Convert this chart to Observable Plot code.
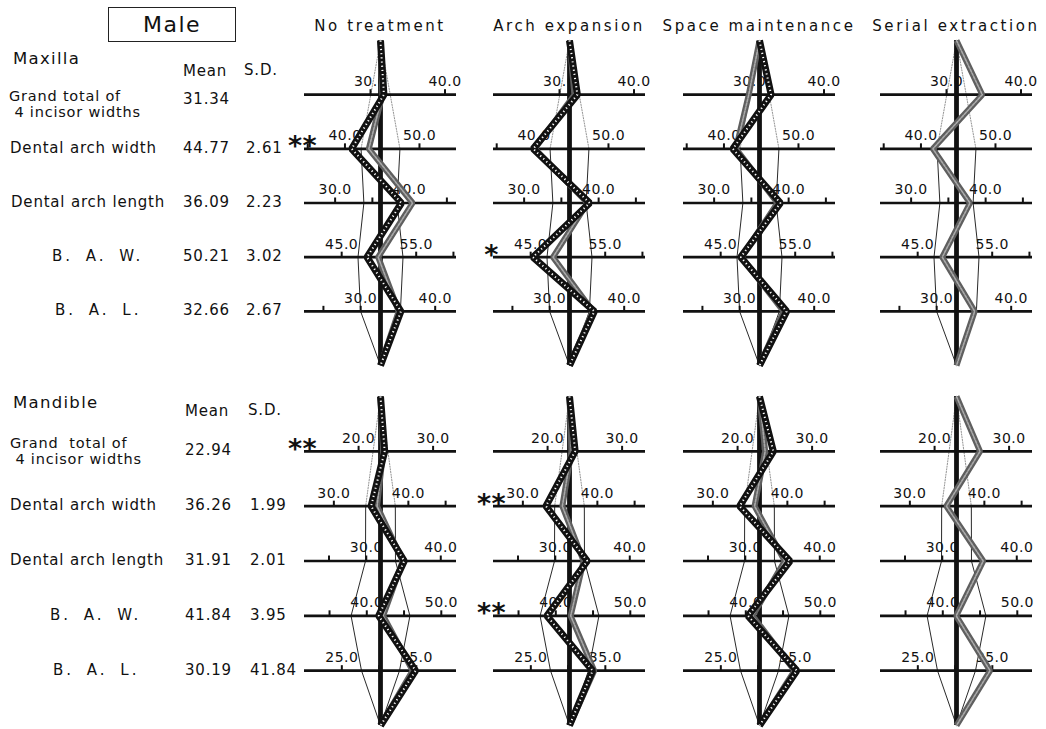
<!DOCTYPE html>
<html><head><meta charset="utf-8">
<script src="https://cdn.jsdelivr.net/npm/d3@7"></script>
<script src="https://cdn.jsdelivr.net/npm/@observablehq/plot@0.6"></script>
<style>
body{margin:0;background:#fff;}
#fig{position:relative;width:1046px;height:729px;overflow:hidden;font-family:"DejaVu Sans",sans-serif;color:#111;background:#fff;}
.lbl{position:absolute;white-space:pre;line-height:1;}
.pnl{position:absolute;}
</style></head><body><div id="fig"></div>
<script>
// ---------------- data ----------------
const figureTitle = "Male";
const treatments = ["No treatment", "Arch expansion", "Space maintenance", "Serial extraction"];
const jaws = ["Maxilla", "Mandible"];

const maxillaVariables = [["Grand total of", " 4 incisor widths"], ["Dental arch width"], ["Dental arch length"], ["B. A. W."], ["B. A. L."]];
const mandibleVariables = [["Grand  total of", " 4 incisor widths"], ["Dental arch width"], ["Dental arch length"], ["B. A. W."], ["B. A. L."]];

const maxillaMean = [31.34, 44.77, 36.09, 50.21, 32.66];
const maxillaSD = [null, 2.61, 2.23, 3.02, 2.67];
const maxillaSDText = ["", "2.61", "2.23", "3.02", "2.67"];
const mandibleMean = [22.94, 36.26, 31.91, 41.84, 30.19];
const mandibleSD = [null, 1.99, 2.01, 3.95, 2.55];
const mandibleSDText = ["", "1.99", "2.01", "3.95", "41.84"];

const maxillaTickLabels = [[30, 40], [40, 50], [30, 40], [45, 55], [30, 40]];
const maxillaMinorTicks = [[], [35], [35, 45], [60], [25]];
const mandibleTickLabels = [[20, 30], [30, 40], [30, 40], [40, 50], [25, 35]];
const mandibleMinorTicks = [[], [45], [25], [35, 45], [30]];

// profile values (mm), one array per treatment; null = not drawn
const maxillaDark = [
  [31.8, 40.9, 38.9, 48.4, 35.4],
  [32.4, 39.9, 38.8, 45.3, 36.0],
  [32.9, 41.2, 38.9, 47.7, 36.3],
  null
];
const maxillaGray = [
  [31.6, 43.2, 40.4, 49.9, 35.1],
  [32.0, 40.1, 38.5, 48.0, 35.8],
  [29.9, 41.6, 38.5, 47.8, 35.9],
  [34.8, 41.6, 37.9, 48.3, 35.1]
];
const mandibleDark = [
  [23.5, 35.0, 35.1, 41.6, 34.9],
  [23.7, 33.1, 34.3, 38.8, 33.3],
  [24.8, 33.6, 36.0, 40.3, 35.2],
  null
];
const mandibleGray = [
  [23.3, 35.8, 34.9, 42.2, 34.5],
  [23.2, 35.3, 33.8, 42.0, 33.5],
  [23.7, 35.6, 35.3, 40.9, 34.9],
  [26.1, 34.9, 35.5, 41.8, 34.7]
];

// significance markers: jaw, treatment, row (1-5), text
const significance = [
  ["Maxilla", "No treatment", 2, "**"],
  ["Maxilla", "Arch expansion", 4, "*"],
  ["Mandible", "No treatment", 1, "**"],
  ["Mandible", "Arch expansion", 2, "**"],
  ["Mandible", "Arch expansion", 4, "**"]
];

// ---------------- layout ----------------
const jawData = [
  {name: "Maxilla", vars: maxillaVariables, mean: maxillaMean, sd: maxillaSD, sdText: maxillaSDText,
   tickLabels: maxillaTickLabels, minor: maxillaMinorTicks, dark: maxillaDark, gray: maxillaGray},
  {name: "Mandible", vars: mandibleVariables, mean: mandibleMean, sd: mandibleSD, sdText: mandibleSDText,
   tickLabels: mandibleTickLabels, minor: mandibleMinorTicks, dark: mandibleDark, gray: mandibleGray}
];
const XD = 10.2;
const centers = [380, 569, 759, 956];
const apexY = [[40, 365], [396, 725]];
const PW = 200, PM = 24, VM = 12;
const fig = document.getElementById("fig");

function addLabel(text, x, y, fs, extra) {
  const d = document.createElement("div");
  d.className = "lbl";
  d.textContent = text;
  d.style.left = x + "px";
  d.style.top = (y - fs / 2) + "px";
  d.style.fontSize = fs + "px";
  Object.assign(d.style, extra || {});
  fig.appendChild(d);
  return d;
}

function makePanel(j, t) {
  const J = jawData[j];
  const rows = [1, 2, 3, 4, 5];
  const tickPts = [];
  J.tickLabels.forEach((arr, i) => arr.forEach(v => tickPts.push({row: i + 1, dev: v - J.mean[i], label: v.toFixed(1)})));
  const minorPts = [];
  J.minor.forEach((arr, i) => arr.forEach(v => minorPts.push({row: i + 1, dev: v - J.mean[i]})));
  const sdPts = J.sd.map((s, i) => ({row: i + 1, s})).filter(d => d.s != null);
  const env = side => ({
    upper: [{row: 0, dev: 0}, {row: sdPts[0].row, dev: side * sdPts[0].s}],
    lower: [...sdPts.map(d => ({row: d.row, dev: side * d.s})), {row: 6, dev: 0}]
  });
  const L = env(-1), R = env(1);
  const prof = vals => [{row: 0, dev: 0}, ...vals.map((v, i) => ({row: i + 1, dev: v - J.mean[i]})), {row: 6, dev: 0}];
  const dark = J.dark[t], gray = J.gray[t];
  const sig = significance.filter(s => s[0] === J.name && s[1] === treatments[t]).map(s => ({row: s[2], text: s[3]}));
  const marks = [
    ...[L, R].map(e => Plot.line(e.upper, {x: "dev", y: "row", stroke: "#777", strokeWidth: 0.8, strokeDasharray: "1.2,1.5"})),
    ...[L, R].map(e => Plot.line(e.lower, {x: "dev", y: "row", stroke: "#111", strokeWidth: 0.9})),
    Plot.ruleY(rows, {stroke: "#111", strokeWidth: 2.6}),
    Plot.ruleX(tickPts.concat(minorPts), {x: "dev", y1: "row", y2: "row", insetTop: -5, stroke: "#111", strokeWidth: 2}),
    Plot.text(tickPts, {x: "dev", y: "row", text: "label", dy: -13, fontSize: 14, fill: "#111"}),
    Plot.ruleX([0], {y1: 0, y2: 6, stroke: "#111", strokeWidth: 4.8})
  ];
  if (gray) {
    const g = prof(gray);
    marks.push(Plot.line(g, {x: "dev", y: "row", stroke: "#5f5f5f", strokeWidth: 6, strokeLinejoin: "miter", strokeLinecap: "butt"}));
    marks.push(Plot.line(g, {x: "dev", y: "row", stroke: "#a9a9a9", strokeWidth: 1.6, strokeDasharray: "2.5,1.5", strokeLinejoin: "miter"}));
  }
  if (dark) {
    const d = prof(dark);
    marks.push(Plot.line(d, {x: "dev", y: "row", stroke: "#111", strokeWidth: 7, strokeLinejoin: "miter", strokeLinecap: "butt"}));
    marks.push(Plot.line(d, {x: "dev", y: "row", stroke: "#fff", strokeWidth: 2, strokeDasharray: "1.2,3", strokeLinejoin: "miter", strokeLinecap: "butt"}));
  }
  marks.push(Plot.text(sig, {y: "row", text: "text", frameAnchor: "left", textAnchor: "middle", dx: -2, dy: -2, fontSize: 27, fontWeight: "bold", fill: "#111"}));
  const chart = Plot.plot({
    width: PW,
    height: (apexY[j][1] - apexY[j][0]) + 2 * VM,
    marginLeft: PM, marginRight: PM, marginTop: VM, marginBottom: VM,
    x: {domain: [-XD, XD], axis: null},
    y: {domain: [0, 6], reverse: true, axis: null},
    style: "background:transparent;overflow:visible;font-family:'DejaVu Sans',sans-serif;letter-spacing:0.5px;color:#111;max-width:none;",
    marks
  });
  const wrap = document.createElement("div");
  wrap.className = "pnl";
  wrap.style.left = (centers[t] - PW / 2) + "px";
  wrap.style.top = (apexY[j][0] - VM) + "px";
  wrap.style.width = PW + "px";
  wrap.appendChild(chart);
  fig.appendChild(wrap);
  return chart;
}

// Title box
const box = document.createElement("div");
box.className = "lbl";
box.textContent = figureTitle;
Object.assign(box.style, {left: "108px", top: "7px", width: "126px", height: "33px", border: "1.5px solid #222",
  fontSize: "22px", letterSpacing: "1.5px", textAlign: "center", lineHeight: "33px"});
fig.appendChild(box);

// treatment titles
treatments.forEach((name, t) => {
  addLabel(name, centers[t] - 110, 26.5, 15, {width: "220px", textAlign: "center", letterSpacing: "2.6px"});
});

const headerY = [[59, 71], [403, 411]];
const gtOffset = [[2, 18, 5], [-8, 8, 0]];
const nameX = [[9, 10, 11, 52, 55], [10, 10, 10, 50, 53]];
const meanX = [183, 185], sdX = [246, 250];

jawData.forEach((J, j) => {
  let chart0 = null;
  treatments.forEach((_, t) => { const c = makePanel(j, t); if (t === 0) chart0 = c; });
  const ys = chart0.scale("y");
  const top = apexY[j][0] - VM;
  const rowY = i => top + ys.apply(i);
  const LS = {letterSpacing: "0.8px"};
  addLabel(J.name, 13, headerY[j][0], 16.5, {letterSpacing: "1.3px"});
  addLabel("Mean", meanX[j], headerY[j][1], 15, LS);
  addLabel("S.D.", sdX[j] - 2, headerY[j][1] - 1, 15, LS);
  J.vars.forEach((lines, i) => {
    const y = rowY(i + 1);
    if (lines.length === 2) {
      addLabel(lines[0], nameX[j][i], y + gtOffset[j][0], 14.5, LS);
      addLabel(lines[1], nameX[j][i], y + gtOffset[j][1], 14.5, LS);
      addLabel(J.mean[i].toFixed(2), meanX[j], y + gtOffset[j][2], 15, LS);
    } else {
      const ls = lines[0].startsWith("B.") ? {letterSpacing: "3px", wordSpacing: "5px"} : LS;
      addLabel(lines[0], nameX[j][i], y, 15, ls);
      addLabel(J.mean[i].toFixed(2), meanX[j], y, 15, LS);
    }
    if (J.sdText[i]) addLabel(J.sdText[i], sdX[j], y, 15, LS);
  });
});
</script></body></html>
